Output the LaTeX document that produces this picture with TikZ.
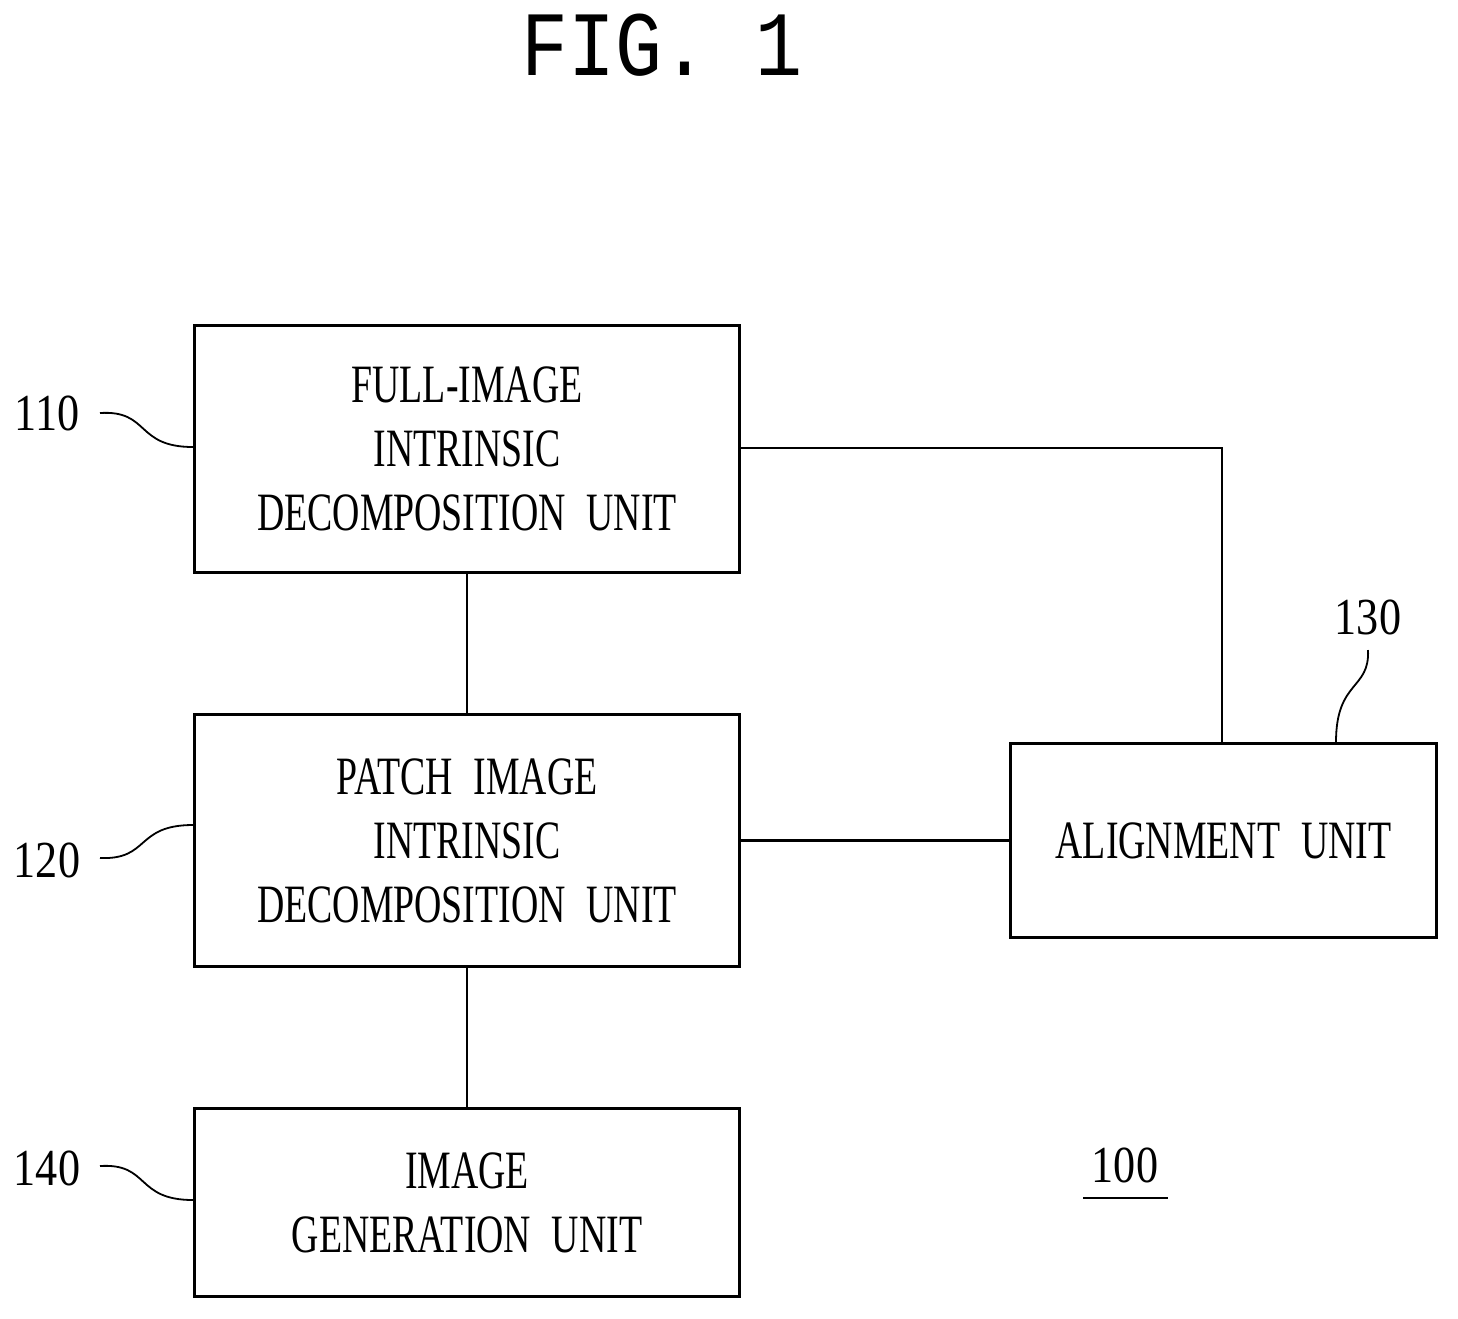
\documentclass[tikz,border=0pt]{standalone}
\usepackage{fontspec}
\setmainfont{Liberation Serif}
\newfontfamily\boxfont[FakeStretch=0.7,WordSpace=2.2]{Liberation Serif}
\newfontfamily\numfont[FakeStretch=0.85]{Liberation Serif}
\newfontfamily\titlefont[FakeStretch=0.85]{Liberation Mono}
\begin{document}
\begin{tikzpicture}[x=1pt,y=-1pt,
  unit/.style={draw,line width=3pt,minimum width=545pt,anchor=north west,inner sep=0pt,
     font=\boxfont\fontsize{54}{64}\selectfont,align=center},
  conn/.style={line width=2.5pt},
  lead/.style={line width=1.8pt},
  num/.style={font=\numfont\fontsize{52}{54}\selectfont}]
\useasboundingbox (0,0) rectangle (1458,1318);
\node[font=\titlefont\fontsize{92}{92}\selectfont] (title) at (662,45) {FIG. 1};
\node[unit,minimum height=247pt] (u110) at (193,324) {FULL-IMAGE\\INTRINSIC\\DECOMPOSITION UNIT};
\node[unit,minimum height=252pt] (u120) at (193,713) {PATCH IMAGE\\INTRINSIC\\DECOMPOSITION UNIT};
\node[unit,minimum height=188pt] (u140) at (193,1107) {IMAGE\\GENERATION UNIT};
\node[unit,minimum width=426pt,minimum height=194pt] (u130) at (1009,742) {ALIGNMENT UNIT};
\draw[conn] (u110.south) -- (u120.north);
\draw[conn] (u120.south) -- (u140.north);
\coordinate (c1) at (1222,448);
\draw[conn] (u110.east |- c1) -- (c1) -- (c1 |- u130.north);
\draw[conn] (u120.east) -- (u130.west);
\node[num] (n110) at (47,413) {110};
\node[num] (n120) at (47,860) {120};
\node[num] (n140) at (47,1168) {140};
\node[num] (n130) at (1368,617) {130};
\node[num] (n100) at (1125,1165) {100};
\draw[lead] (1083,1198) -- (1168,1198);
\draw[lead] (100,413) .. controls (150,410) and (135,447) .. (193,447 -| u110.west);
\draw[lead] (100,858) .. controls (150,860) and (135,825) .. (193,825 -| u120.west);
\draw[lead] (100,1166) .. controls (150,1163) and (135,1200) .. (193,1200 -| u140.west);
\draw[lead] (1368,650) .. controls (1370,690) and (1336,680) .. (1336,742 |- u130.north);
\end{tikzpicture}
\end{document}
